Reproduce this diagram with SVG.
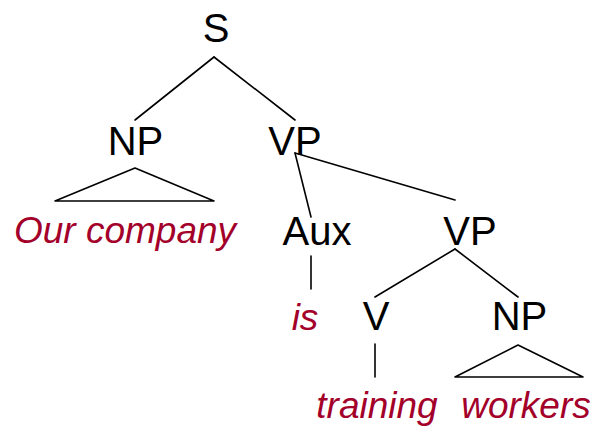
<svg xmlns="http://www.w3.org/2000/svg" width="595" height="427" viewBox="0 0 595 427">
  <style>
    .cat { font-family: "Liberation Sans", Arial, sans-serif; font-size: 40px; fill: #000; text-anchor: middle; }
    .word { font-family: "Liberation Sans", Arial, sans-serif; font-size: 37px; font-style: italic; fill: #a3002a; text-anchor: middle; }
    .edge { stroke: #000; stroke-width: 1.6; fill: none; stroke-linecap: round; stroke-linejoin: round; }
  </style>
  <rect width="595" height="427" fill="#fff"/>

  <!-- tree branches -->
  <g id="connectors">
    <line class="edge" x1="214" y1="57" x2="135" y2="120"/>
    <line class="edge" x1="214" y1="57" x2="295" y2="120"/>
    <polygon class="edge" points="135,168 55,201 214,201"/>
    <line class="edge" x1="295" y1="153" x2="311" y2="217"/>
    <line class="edge" x1="295" y1="153" x2="455" y2="200"/>
    <line class="edge" x1="311" y1="256" x2="311" y2="289"/>
    <line class="edge" x1="455" y1="249" x2="375" y2="297"/>
    <line class="edge" x1="455" y1="249" x2="518" y2="297"/>
    <line class="edge" x1="375" y1="344" x2="375" y2="377"/>
    <polygon class="edge" points="518,345 455,377 583,377"/>
  </g>

  <g id="S"><text class="cat" x="216" y="42">S</text></g>
  <g id="NP1"><text class="cat" x="135.5" y="155">NP</text></g>
  <g id="VP1"><text class="cat" x="295" y="155">VP</text></g>
  <g id="Aux"><text class="cat" x="317" y="245">Aux</text></g>
  <g id="VP2"><text class="cat" x="470" y="245">VP</text></g>
  <g id="V"><text class="cat" x="376" y="330">V</text></g>
  <g id="NP2"><text class="cat" x="519.5" y="330">NP</text></g>

  <g id="w-our-company"><text class="word" x="125" y="243">Our company</text></g>
  <g id="w-is"><text class="word" x="305" y="330">is</text></g>
  <g id="w-training"><text class="word" x="377" y="418">training</text></g>
  <g id="w-workers"><text class="word" x="526" y="418">workers</text></g>
</svg>
